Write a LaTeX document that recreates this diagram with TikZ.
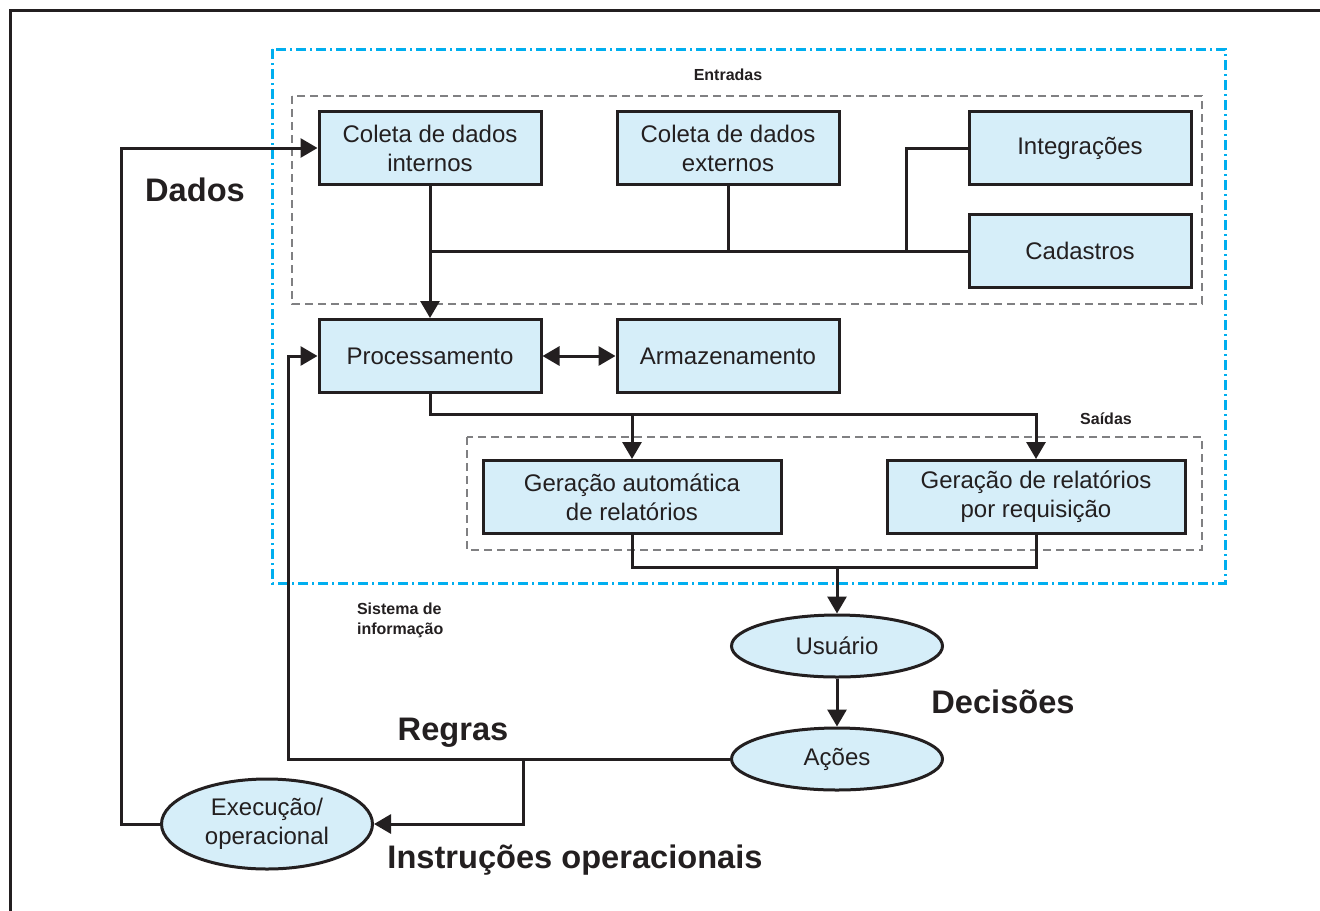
\documentclass[tikz,border=0pt]{standalone}
\usepackage{fontspec}
\setmainfont{Liberation Sans}
\usepackage{xcolor}
\definecolor{sisblue}{RGB}{0,174,239}
\definecolor{sisfill}{RGB}{214,238,249}
\definecolor{sisgray}{RGB}{128,128,130}
\definecolor{sisdark}{RGB}{35,31,32}
\usepackage{tikz}
\usetikzlibrary{
    shapes.geometric,
    arrows.meta,
    positioning
}

\begin{document}
\begin{tikzpicture}[
    x=0.5pt, y=-0.5pt,
    block/.style={
        rectangle, draw=sisdark, line width=1.5pt, fill=sisfill,
        minimum width=111pt, minimum height=36.5pt,
        align=center, text=sisdark, font=\fontsize{12}{14.5}\selectfont
    },
    wideblock/.style={block, minimum width=149pt},
    oval/.style={
        ellipse, draw=sisdark, line width=1.5pt, fill=sisfill,
        minimum width=105.5pt, minimum height=31pt, inner sep=0pt,
        align=center, text=sisdark, font=\fontsize{12}{14.5}\selectfont
    },
    conn/.style={draw=sisdark, line width=1.5pt},
    arrow/.style={conn, -{Triangle[length=8.5pt,width=9.5pt]}},
    flowlabel/.style={font=\bfseries\fontsize{16.3}{19}\selectfont, text=sisdark},
    boxlabel/.style={font=\bfseries\fontsize{8}{10}\selectfont, text=sisdark}
]
    \useasboundingbox (0,0) rectangle (1320,910);
    \draw[sisdark, line width=1.5pt] (10,930) -- (10,10) -- (1340,10);

    % Groups
    \draw[sisblue, line width=1.5pt, dash pattern=on 5pt off 2pt on 1pt off 2pt] (272,49) rectangle (1225,583);
    \draw[sisgray, line width=1pt, dash pattern=on 4pt off 2.5pt] (292,96) rectangle (1202,304);
    \draw[sisgray, line width=1pt, dash pattern=on 4pt off 2.5pt] (467,437) rectangle (1202,550);

    \node[block] (colint) at (430,148) {Coleta de dados\\internos};
    \node[block,right=36.5pt of colint] (colext) {Coleta de dados\\externos};
    \node[block,right=63.5pt of colext] (integ) {Integrações};
    \node[block,below=13.5pt of integ] (cad) {Cadastros};
    \node[block,below=66pt of colint] (proc) {Processamento};
    \node[block,below=66pt of colext] (arm) {Armazenamento};
    \node[wideblock] (gerauto) at (632,497) {Geração automática\\de relatórios};
    \node[wideblock,right=51.5pt of gerauto] (gerreq) {Geração de relatórios\\por requisição};
    \node[oval] (usr) at (837,646) {Usuário};
    \node[oval,below=24pt of usr] (acoes) {Ações};
    \node[oval,minimum height=45pt] (exec) at (267,824) {Execução/\\operacional};

    % Descriptions
    \node[boxlabel] (entlbl) at (728,75) {Entradas};
    \node[boxlabel] (sailbl) at (1106,419) {Saídas};
    \node[boxlabel,anchor=north west,align=left] (sislbl) at (350,596) {Sistema de\\informação};
    \node[flowlabel] (dadoslbl) at (195,190) {Dados};
    \node[flowlabel] (regraslbl) at (453,733) {Regras};
    \node[flowlabel] (decislbl) at (1003,702) {Decisões};
    \node[flowlabel] (instrlbl) at (575,860) {Instruções operacionais};

    % Arrows
    \draw[arrow] (colint.south) -- (proc.north);
    \draw[conn] (cad.west) -- (cad.west -| colint.south);
    \draw[conn] (colext.south) -- (colext.south |- cad.west);
    \draw[conn] (integ.west) -| ([xshift=-30.5pt]cad.west);
    \draw[conn,{Triangle[length=8.5pt,width=9.5pt]}-{Triangle[length=8.5pt,width=9.5pt]}] (proc) -- (arm);
    \draw[arrow] (proc.south) -- ++(0,20) coordinate (obus) -| (gerreq.north);
    \draw[arrow] (gerauto.north |- obus) -- (gerauto.north);
    \draw[conn] (gerauto.south) -- ++(0,32) coordinate (ibus) -| (gerreq.south);
    \draw[arrow] (usr.north |- ibus) -- (usr.north);
    \draw[arrow] (usr) -- (acoes);
    \draw[arrow] (acoes.west) -| ([xshift=-14.5pt]proc.west) -- (proc.west);
    \coordinate (tap) at (523,0);
    \draw[arrow] (acoes.west -| tap) |- (exec.east);
    \draw[arrow] (exec.west) -| ([xshift=-98pt]colint.west) -- (colint.west);
\end{tikzpicture}
\end{document}
